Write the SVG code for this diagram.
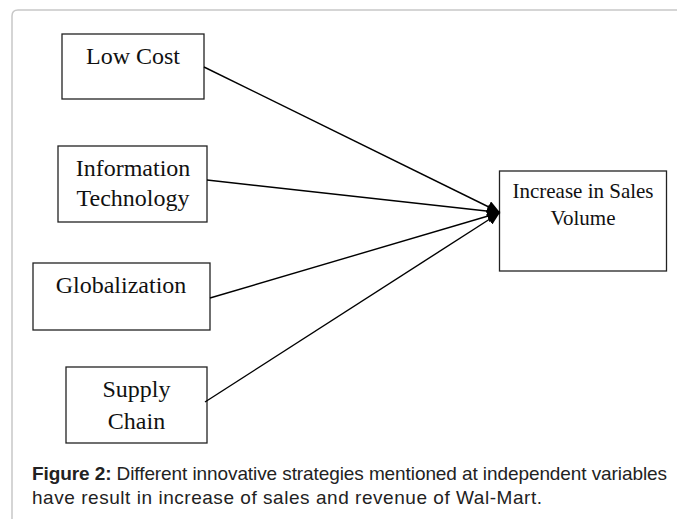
<svg xmlns="http://www.w3.org/2000/svg" width="677" height="519" viewBox="0 0 677 519">
<style>
.box{fill:#fff;stroke:#222;stroke-width:1.3}
.lbl{font-family:"Liberation Serif","Times New Roman",serif;font-size:24px;fill:#111;text-anchor:middle}
.lbl2{font-family:"Liberation Serif","Times New Roman",serif;font-size:21px;fill:#111;text-anchor:middle}
.edge{stroke:#000;stroke-width:1.4;fill:none;marker-end:url(#ah)}
.cap{font-family:"Liberation Sans",Arial,sans-serif;font-size:19px;fill:#222}
</style>
<defs>
<marker id="ah" markerUnits="userSpaceOnUse" markerWidth="14" markerHeight="12" refX="13" refY="6" orient="auto">
<path d="M0,0 L13,6 L0,12 Z" fill="#000"/>
</marker>
</defs>
<rect width="677" height="519" fill="#fff"/>
<path d="M12,540 L12,16 Q12,10 18,10 L690,10" fill="none" stroke="#c8c8c8" stroke-width="1.5"/>
<g id="low-cost"><rect class="box" x="62" y="34" width="142" height="65"/><text class="lbl" x="133" y="63.5">Low Cost</text></g>
<g id="information-technology"><rect class="box" x="58" y="146" width="149" height="76"/><text class="lbl" x="133" y="176">Information</text><text class="lbl" x="133" y="206">Technology</text></g>
<g id="globalization"><rect class="box" x="33" y="263" width="177" height="67"/><text class="lbl" x="121" y="293">Globalization</text></g>
<g id="supply-chain"><rect class="box" x="66" y="367" width="141" height="76"/><text class="lbl" x="136.5" y="397">Supply</text><text class="lbl" x="136.5" y="429">Chain</text></g>
<g id="increase-in-sales-volume"><rect class="box" x="499.5" y="171" width="167" height="100"/><text class="lbl2" x="583" y="197.5">Increase in Sales</text><text class="lbl2" x="583" y="225">Volume</text></g>
<g id="connectors">
<line class="edge" x1="204" y1="67" x2="500" y2="212.5"/>
<line class="edge" x1="207" y1="180" x2="500" y2="212.5"/>
<line class="edge" x1="210" y1="298" x2="500" y2="212.5"/>
<line class="edge" x1="205" y1="402" x2="500" y2="212.5"/>
</g>
<text class="cap" x="32" y="480" textLength="635" lengthAdjust="spacing"><tspan font-weight="bold">Figure 2:</tspan> Different innovative strategies mentioned at independent variables</text>
<text class="cap" x="32" y="504" textLength="510" lengthAdjust="spacing">have result in increase of sales and revenue of Wal-Mart.</text>
</svg>
